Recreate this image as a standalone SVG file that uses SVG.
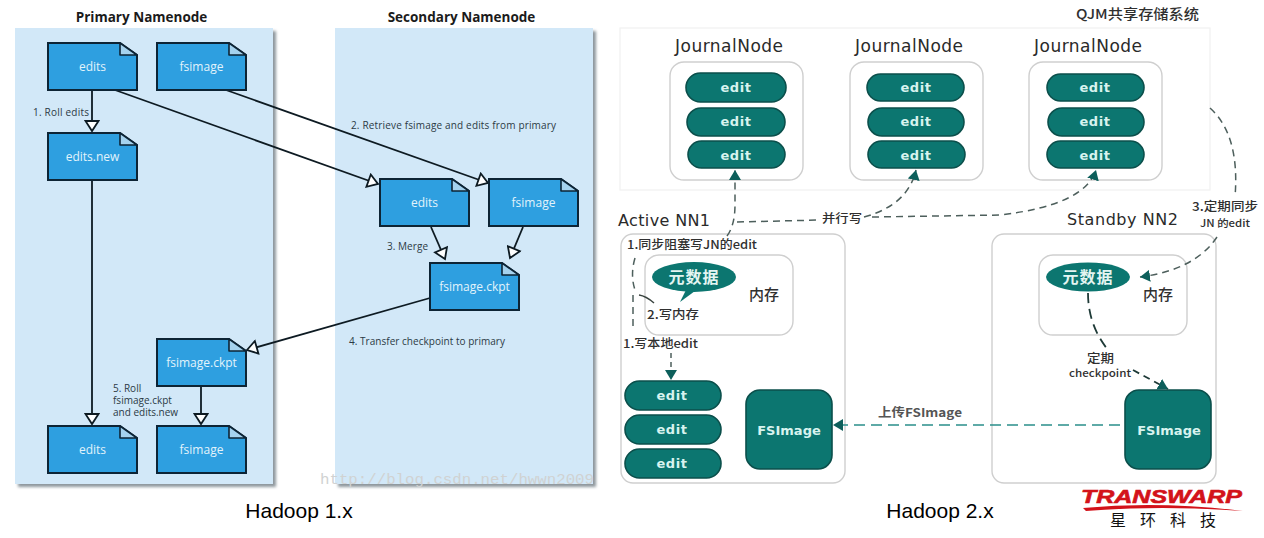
<svg xmlns="http://www.w3.org/2000/svg" width="1264" height="538" viewBox="0 0 1264 538">
<style>
text{font-family:"Open Sans","Noto Sans CJK SC",sans-serif}
.panel{fill:#d2e8f8}
.shadow{fill:#8d969c;filter:url(#soft)}
.dl{fill:#e2f3fb;font-size:12px;text-anchor:middle}
.lab{fill:#2c3a45;font-size:10px}
.head{fill:#1b1b1b;font-size:13.500px;font-weight:700;text-anchor:middle}
.link{fill:none;stroke:#0d1a22;stroke-width:1.800}
.box{fill:#fff;stroke:#cfcfcf;stroke-width:1.400}
.pill{fill:#0c7670;stroke:#0b4f4b;stroke-width:1.600}
.pt{fill:#d8f3ef;font-family:"DejaVu Sans",sans-serif;font-size:13px;font-weight:700;text-anchor:middle;letter-spacing:.6px}
.jn{fill:#2a2a2a;font-family:"DejaVu Sans",sans-serif;font-size:17px;text-anchor:middle}
.nn{fill:#2a2a2a;font-family:"DejaVu Sans",sans-serif;font-size:16px}
.cn{fill:#303030;font-family:"Noto Sans CJK SC",sans-serif;font-size:12px;font-weight:500}
.dash{fill:none;stroke:#4d5f5c;stroke-width:1.500;stroke-dasharray:7 5}
.cap{fill:#000;font-family:"Liberation Sans",sans-serif;font-size:21px;text-anchor:middle}
</style>
<defs>
<filter id="soft" x="-5%" y="-5%" width="110%" height="110%"><feGaussianBlur stdDeviation="1.500"/></filter>
<g id="doc">
<path d="M0 0H72L89 12V47H0Z" fill="#2e9fe0" stroke="#0d2435" stroke-width="2"/>
<path d="M72 0L89 12H72Z" fill="#a5d2ee" stroke="#0d2435" stroke-width="1.600" stroke-linejoin="round"/>
</g>
<marker id="open" markerUnits="userSpaceOnUse" markerWidth="16" markerHeight="16" refX="12" refY="8" orient="auto">
<path d="M2 1.500L12 8L2 14.500Z" fill="#fff" stroke="#0d1a22" stroke-width="1.800"/>
</marker>
<marker id="tealhead" markerUnits="userSpaceOnUse" markerWidth="14" markerHeight="14" refX="10" refY="6" orient="auto">
<path d="M0 0L10 6L0 12Z" fill="#0d5f5b"/>
</marker>
</defs>
<rect width="1264" height="538" fill="#fff"/>

<g id="primary-panel">
<rect class="shadow" x="18" y="31" width="258" height="456"/>
<rect class="panel" x="15" y="28" width="258" height="456"/>
<text class="head" x="141.500" y="22">Primary Namenode</text>
</g>
<g id="secondary-panel">
<rect class="shadow" x="338" y="31" width="258" height="456"/>
<rect class="panel" x="335" y="28" width="258" height="456"/>
<text class="head" x="461.500" y="22">Secondary Namenode</text>
</g>
<text x="320" y="484" fill="#d0d2d2" style="font-family:'Liberation Mono',monospace" font-size="14" textLength="274" lengthAdjust="spacingAndGlyphs">http://blog.csdn.net/hwwn2009</text>

<g id="h1-connectors">
<path class="link" d="M92 90V131" marker-end="url(#open)"/>
<path class="link" d="M115 90L378 184" marker-end="url(#open)"/>
<path class="link" d="M226 90L488 183" marker-end="url(#open)"/>
<path class="link" d="M431 227L445 259" marker-end="url(#open)"/>
<path class="link" d="M523 227L510 258" marker-end="url(#open)"/>
<path class="link" d="M430 298L247 350" marker-end="url(#open)"/>
<path class="link" d="M92 181V424" marker-end="url(#open)"/>
<path class="link" d="M201 386V424" marker-end="url(#open)"/>
</g>
<g id="h1-labels">
<text class="lab" x="33" y="116" textLength="56">1. Roll edits</text>
<text class="lab" x="351" y="129" textLength="205">2. Retrieve fsimage and edits from primary</text>
<text class="lab" x="387" y="250" textLength="41">3. Merge</text>
<text class="lab" x="349" y="345" textLength="156">4. Transfer checkpoint to primary</text>
<text class="lab" x="113" y="392">5. Roll</text>
<text class="lab" x="113" y="404">fsimage.ckpt</text>
<text class="lab" x="113" y="416">and edits.new</text>
</g>

<g id="p-edits"><use href="#doc" x="48" y="43"/><text class="dl" x="92.500" y="71">edits</text></g>
<g id="p-fsimage"><use href="#doc" x="157" y="43"/><text class="dl" x="201.500" y="71">fsimage</text></g>
<g id="p-edits-new"><use href="#doc" x="48" y="133"/><text class="dl" x="92.500" y="161">edits.new</text></g>
<g id="p-ckpt"><use href="#doc" x="157" y="339"/><text class="dl" x="201.500" y="367">fsimage.ckpt</text></g>
<g id="p-edits2"><use href="#doc" x="48" y="426"/><text class="dl" x="92.500" y="454">edits</text></g>
<g id="p-fsimage2"><use href="#doc" x="157" y="426"/><text class="dl" x="201.500" y="454">fsimage</text></g>
<g id="s-edits"><use href="#doc" x="380" y="179"/><text class="dl" x="424.500" y="207">edits</text></g>
<g id="s-fsimage"><use href="#doc" x="489" y="179"/><text class="dl" x="533.500" y="207">fsimage</text></g>
<g id="s-ckpt"><use href="#doc" x="430" y="263"/><text class="dl" x="474.500" y="291">fsimage.ckpt</text></g>

<g id="qjm">
<rect x="620" y="28" width="590" height="162" fill="#fff" stroke="#f1f1f1" stroke-width="1.200"/>
<text class="cn" x="1076" y="19" style="font-size:13.500px" textLength="123" lengthAdjust="spacingAndGlyphs">QJM共享存储系统</text>
</g>

<g id="jn1">
<text class="jn" x="729" y="52" textLength="108">JournalNode</text>
<rect class="box" x="670" y="62" width="133" height="118" rx="14"/>
<rect class="pill" x="686" y="73" width="100" height="29" rx="14.500"/><text class="pt" x="736" y="92">edit</text>
<rect class="pill" x="687" y="108" width="98" height="28" rx="14"/><text class="pt" x="736" y="126">edit</text>
<rect class="pill" x="688" y="141" width="97" height="27" rx="13.500"/><text class="pt" x="736" y="160">edit</text>
</g>
<g id="jn2">
<text class="jn" x="909" y="52" textLength="108">JournalNode</text>
<rect class="box" x="850" y="62" width="133" height="118" rx="14"/>
<rect class="pill" x="867" y="74" width="97" height="27" rx="13.500"/><text class="pt" x="916" y="92">edit</text>
<rect class="pill" x="868" y="108" width="96" height="28" rx="14"/><text class="pt" x="916" y="126">edit</text>
<rect class="pill" x="868" y="141" width="97" height="27" rx="13.500"/><text class="pt" x="916" y="160">edit</text>
</g>
<g id="jn3">
<text class="jn" x="1088" y="52" textLength="108">JournalNode</text>
<rect class="box" x="1029" y="62" width="133" height="118" rx="14"/>
<rect class="pill" x="1047" y="74" width="97" height="27" rx="13.500"/><text class="pt" x="1095" y="92">edit</text>
<rect class="pill" x="1048" y="108" width="96" height="28" rx="14"/><text class="pt" x="1095" y="126">edit</text>
<rect class="pill" x="1047" y="141" width="97" height="27" rx="13.500"/><text class="pt" x="1095" y="160">edit</text>
</g>

<g id="active-nn">
<text class="nn" x="618" y="226" textLength="92">Active NN1</text>
<rect class="box" x="621" y="234" width="224" height="249" rx="12"/>
<rect class="box" x="645" y="255" width="148" height="80" rx="14"/>
<path d="M686 290L680 302L695 291Z" fill="#0c7670"/>
<ellipse cx="694" cy="277" rx="42" ry="15" fill="#0c7670"/>
<text x="694" y="283" fill="#e4f5f2" font-size="16" text-anchor="middle" font-weight="700" letter-spacing="1" style="font-family:'Noto Sans CJK SC',sans-serif">元数据</text>
<text class="cn" x="749" y="300" style="font-size:15px">内存</text>
<rect class="pill" x="625" y="381" width="96" height="29" rx="14.500"/><text class="pt" x="672" y="400">edit</text>
<rect class="pill" x="625" y="415" width="96" height="29" rx="14.500"/><text class="pt" x="672" y="434">edit</text>
<rect class="pill" x="625" y="449" width="96" height="29" rx="14.500"/><text class="pt" x="672" y="468">edit</text>
<rect x="746" y="390" width="86" height="79" rx="14" fill="#0c7670" stroke="#0b4f4b" stroke-width="1.600"/>
<text class="pt" x="789" y="435" style="letter-spacing:0">FSImage</text>
</g>

<g id="standby-nn">
<text class="nn" x="1067" y="225" textLength="111">Standby NN2</text>
<rect class="box" x="992" y="234" width="224" height="249" rx="12"/>
<rect class="box" x="1039" y="255" width="148" height="80" rx="14"/>
<ellipse cx="1088" cy="277" rx="42" ry="14.500" fill="#0c7670"/>
<text x="1088" y="283" fill="#e4f5f2" font-size="16" text-anchor="middle" font-weight="700" letter-spacing="1" style="font-family:'Noto Sans CJK SC',sans-serif">元数据</text>
<text class="cn" x="1143" y="300" style="font-size:15px">内存</text>
<rect x="1125" y="390" width="86" height="79" rx="14" fill="#0c7670" stroke="#0b4f4b" stroke-width="1.600"/>
<text class="pt" x="1169" y="435" style="letter-spacing:0">FSImage</text>
</g>

<g id="h2-connectors">
<path class="dash" d="M727 236Q735 225 735 205V170" marker-end="url(#tealhead)"/>
<path class="dash" d="M737 222L820 220"/>
<path class="dash" d="M864 217Q908 205 916 170" marker-end="url(#tealhead)"/>
<path class="dash" d="M872 217L1000 215Q1085 205 1096 170" marker-end="url(#tealhead)"/>
<path class="dash" d="M1210 108Q1240 135 1235 197"/>
<path class="dash" d="M1217 237Q1195 270 1140 277" marker-end="url(#tealhead)"/>
<path class="dash" d="M635 258Q630 275 635 290M633 295V330"/>
<path d="M639 295Q646 296 654 303" fill="none" stroke="#39433f" stroke-width="1.500"/>
<path d="M671 353V380" class="dash" marker-end="url(#tealhead)" style="stroke-dasharray:5 4"/>
<path d="M1088 293Q1088 325 1108 350" class="dash" style="stroke:#1e3a37;stroke-width:1.800;stroke-dasharray:10 6"/>
<path d="M1133 370L1168 389" class="dash" marker-end="url(#tealhead)" style="stroke:#1e3a37;stroke-width:1.800"/>
<path d="M1120 425H833" fill="none" stroke="#2a8f8a" stroke-width="1.500" stroke-dasharray="11 6" marker-end="url(#tealhead)"/>
</g>
<g id="h2-labels">
<text class="cn" x="627" y="249" textLength="130" lengthAdjust="spacingAndGlyphs">1.同步阻塞写JN的edit</text>
<text class="cn" x="647" y="319" textLength="52" lengthAdjust="spacingAndGlyphs">2.写内存</text>
<text class="cn" x="623" y="348" textLength="75" lengthAdjust="spacingAndGlyphs">1.写本地edit</text>
<text class="cn" x="822" y="223" textLength="40" lengthAdjust="spacingAndGlyphs">并行写</text>
<text class="cn" x="1192" y="211" textLength="66" lengthAdjust="spacingAndGlyphs">3.定期同步</text>
<text class="cn" x="1200" y="227" style="font-size:10px" textLength="50" lengthAdjust="spacingAndGlyphs">JN 的edit</text>
<text class="cn" x="1087" y="363" textLength="27" lengthAdjust="spacingAndGlyphs">定期</text>
<text class="cn" x="1069" y="377" style="font-size:11px" textLength="62" lengthAdjust="spacingAndGlyphs">checkpoint</text>
<text class="cn" x="878" y="417" style="fill:#555;font-weight:700" textLength="84" lengthAdjust="spacingAndGlyphs">上传FSImage</text>
</g>

<text class="cap" x="299" y="518">Hadoop 1.x</text>
<text class="cap" x="940" y="518">Hadoop 2.x</text>

<g id="logo">
<path d="M1083 508Q1160 501 1243 511Q1160 505 1086 511Z" fill="#d3121a"/>
<text x="1081" y="503" fill="#d3121a" stroke="#d3121a" stroke-width=".6" font-size="18" font-weight="700" font-style="italic" style="font-family:'Liberation Sans',sans-serif" textLength="161" lengthAdjust="spacingAndGlyphs">TRANSWARP</text>
<text x="1110" y="526" fill="#111" font-size="16" letter-spacing="14" style="font-family:'Noto Sans CJK SC',sans-serif">星环科技</text>
</g>
</svg>
